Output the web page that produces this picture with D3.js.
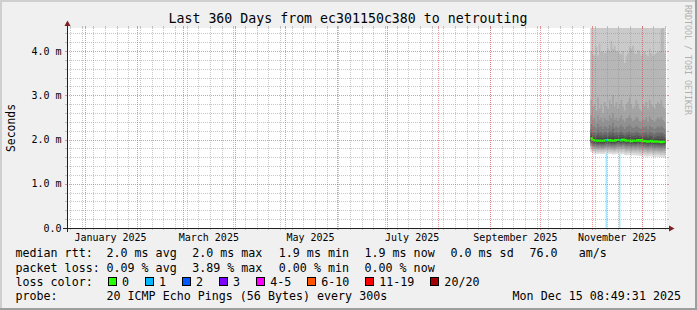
<!DOCTYPE html>
<html><head><meta charset="utf-8">
<script src="https://cdn.jsdelivr.net/npm/d3@7"></script>
<style>
body{margin:0;background:#f0f0f0;}
svg{display:block;font-family:"DejaVu Sans Mono",monospace;}
</style></head><body>
<svg id="c" width="697" height="310"></svg>
<script>
// ---------------- data ----------------
const title = "Last 360 Days from ec301150c380 to netrouting";
const yTickValues = [0, 1, 2, 3, 4];           // ms
const yTickLabels = ["0.0", "1.0 m", "2.0 m", "3.0 m", "4.0 m"];
const monthLabels = ["January 2025","March 2025","May 2025","July 2025","September 2025","November 2025"];
const monthLabelDates = ["2025-01-16","2025-03-16","2025-05-16","2025-07-16","2025-09-16","2025-11-16"];
const firstDay = "2025-10-31";                 // first daily sample, one value per day
// loss per day (pings lost out of 20)
const lossDays = ["2025-11-09","2025-11-17"];
const lossCounts = [1, 1];
// median rtt per day (ms)
const median = [2.03,1.99,1.98,1.98,1.97,1.98,1.97,1.97,1.98,1.99,1.98,1.99,1.97,1.98,1.97,1.99,1.99,1.99,1.98,2.00,1.99,1.97,1.98,1.98,1.96,1.98,1.97,1.97,1.99,1.97,1.99,1.96,1.97,1.96,1.95,1.96,1.97,1.95,1.95,1.96,1.95,1.95,1.94,1.95,1.95];
// sorted ping percentiles per day (ms); p19/p20 lie above the chart top
const p19 = [4.60,4.60,4.60,4.60,4.60,4.60,4.60,4.60,4.60,4.60,4.60,4.60,4.60,4.60,4.60,4.60,4.60,4.60,4.60,4.60,4.60,4.60,4.60,4.60,4.60,4.60,4.60,4.60,4.60,4.60,4.60,4.60,4.60,4.60,4.60,4.60,4.60,4.60,4.60,4.60,4.60,4.60,4.60,4.60,4.60];
const p18 = [4.00,3.92,3.90,4.10,3.90,4.16,3.98,4.00,3.95,3.97,4.05,4.00,4.23,4.05,4.12,4.00,3.98,3.95,3.92,4.00,3.73,3.90,3.95,4.10,4.05,4.12,3.95,3.93,4.02,3.98,3.90,3.95,4.00,3.92,3.88,4.05,3.95,3.90,3.92,3.95,3.98,4.00,4.50,4.55,3.95];
const p17 = [2.90,2.75,2.80,2.65,2.95,2.70,2.80,2.60,2.85,2.75,2.70,2.90,2.80,3.00,2.75,2.85,2.70,2.80,2.90,2.75,2.65,2.80,2.85,2.95,2.80,2.70,2.75,2.90,2.80,2.70,2.65,2.80,2.75,2.85,2.70,2.90,2.80,2.75,2.70,2.80,2.85,2.80,2.90,2.75,2.70];
const p16 = [2.55,2.45,2.50,2.40,2.55,2.45,2.50,2.40,2.50,2.45,2.42,2.55,2.48,2.60,2.45,2.50,2.42,2.48,2.55,2.45,2.40,2.48,2.50,2.55,2.48,2.42,2.45,2.52,2.48,2.42,2.40,2.46,2.44,2.50,2.40,2.52,2.46,2.44,2.40,2.46,2.50,2.46,2.52,2.44,2.40];
const p15 = [2.35,2.28,2.30,2.25,2.35,2.28,2.30,2.24,2.30,2.28,2.26,2.33,2.29,2.38,2.27,2.30,2.26,2.29,2.33,2.28,2.24,2.29,2.30,2.34,2.29,2.26,2.27,2.31,2.29,2.26,2.24,2.28,2.27,2.30,2.24,2.31,2.28,2.27,2.24,2.27,2.30,2.27,2.31,2.27,2.24];
const p14 = [2.22,2.16,2.17,2.14,2.21,2.16,2.17,2.13,2.17,2.16,2.15,2.20,2.17,2.24,2.15,2.17,2.15,2.17,2.20,2.16,2.13,2.16,2.17,2.20,2.16,2.14,2.15,2.18,2.16,2.14,2.13,2.15,2.14,2.17,2.12,2.17,2.15,2.14,2.12,2.14,2.16,2.14,2.17,2.14,2.12];
const p13 = [2.14,2.09,2.09,2.08,2.12,2.09,2.09,2.07,2.10,2.09,2.08,2.12,2.09,2.14,2.08,2.10,2.09,2.10,2.12,2.10,2.07,2.09,2.10,2.12,2.09,2.08,2.08,2.10,2.09,2.08,2.07,2.08,2.07,2.09,2.05,2.09,2.08,2.07,2.05,2.07,2.08,2.07,2.09,2.07,2.05];
const p12 = [2.08,2.04,2.03,2.03,2.04,2.04,2.03,2.02,2.04,2.04,2.03,2.05,2.03,2.06,2.02,2.04,2.04,2.04,2.05,2.05,2.03,2.02,2.04,2.05,2.02,2.03,2.02,2.03,2.04,2.02,2.03,2.01,2.02,2.02,2.00,2.02,2.02,2.00,2.00,2.01,2.01,2.00,2.01,2.00,2.00];
const p9 = [1.98,1.95,1.94,1.94,1.93,1.94,1.93,1.93,1.94,1.95,1.94,1.95,1.93,1.94,1.93,1.95,1.95,1.95,1.94,1.96,1.95,1.93,1.94,1.94,1.92,1.94,1.93,1.93,1.95,1.93,1.95,1.92,1.93,1.92,1.91,1.92,1.93,1.91,1.91,1.92,1.91,1.91,1.90,1.91,1.91];
const p8 = [1.95,1.92,1.91,1.91,1.90,1.91,1.90,1.90,1.91,1.92,1.91,1.92,1.90,1.91,1.90,1.92,1.92,1.92,1.91,1.93,1.92,1.90,1.91,1.91,1.89,1.91,1.90,1.90,1.92,1.90,1.92,1.89,1.90,1.89,1.88,1.89,1.90,1.88,1.88,1.89,1.88,1.88,1.87,1.88,1.88];
const p7 = [1.92,1.89,1.88,1.88,1.87,1.88,1.87,1.87,1.88,1.89,1.88,1.89,1.87,1.88,1.87,1.89,1.89,1.89,1.88,1.90,1.89,1.87,1.88,1.88,1.86,1.88,1.87,1.87,1.89,1.87,1.88,1.86,1.87,1.86,1.85,1.86,1.87,1.85,1.85,1.86,1.85,1.85,1.84,1.85,1.85];
const p6 = [1.89,1.86,1.85,1.85,1.84,1.85,1.84,1.84,1.85,1.86,1.85,1.86,1.84,1.85,1.84,1.86,1.86,1.86,1.85,1.87,1.86,1.84,1.85,1.85,1.83,1.85,1.84,1.84,1.85,1.84,1.85,1.83,1.83,1.82,1.82,1.83,1.83,1.82,1.81,1.82,1.82,1.81,1.81,1.82,1.81];
const p5 = [1.86,1.83,1.82,1.82,1.81,1.82,1.81,1.81,1.82,1.83,1.82,1.83,1.81,1.82,1.81,1.82,1.83,1.83,1.82,1.84,1.82,1.81,1.82,1.82,1.80,1.82,1.81,1.81,1.82,1.80,1.81,1.79,1.80,1.79,1.78,1.79,1.80,1.78,1.78,1.79,1.78,1.78,1.77,1.78,1.78];
const p4 = [1.83,1.80,1.79,1.79,1.78,1.79,1.78,1.78,1.79,1.80,1.79,1.80,1.78,1.79,1.77,1.79,1.80,1.80,1.78,1.80,1.79,1.77,1.78,1.78,1.76,1.78,1.77,1.77,1.78,1.76,1.77,1.75,1.76,1.75,1.74,1.75,1.76,1.74,1.74,1.75,1.74,1.74,1.73,1.74,1.74];
const p3 = [1.80,1.77,1.76,1.76,1.75,1.76,1.75,1.75,1.76,1.77,1.76,1.77,1.75,1.75,1.74,1.76,1.77,1.76,1.75,1.77,1.75,1.73,1.74,1.74,1.72,1.74,1.73,1.73,1.74,1.72,1.73,1.71,1.72,1.71,1.70,1.71,1.72,1.70,1.70,1.71,1.70,1.70,1.69,1.70,1.69];
const p2 = [1.76,1.73,1.72,1.72,1.71,1.72,1.71,1.71,1.72,1.73,1.72,1.72,1.71,1.71,1.70,1.72,1.72,1.72,1.70,1.72,1.70,1.69,1.70,1.70,1.68,1.70,1.69,1.69,1.69,1.68,1.68,1.67,1.67,1.66,1.66,1.67,1.67,1.66,1.65,1.66,1.66,1.65,1.65,1.65,1.64];
const p1 = [1.72,1.69,1.68,1.68,1.67,1.68,1.67,1.67,1.68,1.69,1.68,1.68,1.67,1.66,1.66,1.67,1.68,1.67,1.66,1.67,1.65,1.64,1.65,1.65,1.63,1.65,1.64,1.64,1.64,1.63,1.63,1.62,1.62,1.61,1.61,1.62,1.62,1.61,1.60,1.61,1.61,1.60,1.60,1.60,1.59];

const lossLegend = ["0","1","2","3","4-5","6-10","11-19","20/20"];
const lossColors = ["#26ff00","#00b8ff","#0059ff","#7e00ff","#ff00ff","#ff5500","#ff0000","#a10000"];
const rowRtt = ["median rtt:","2.0 ms avg","2.0 ms max","1.9 ms min","1.9 ms now","0.0 ms sd","76.0","am/s"];
const rowLoss = ["packet loss:","0.09 % avg","3.89 % max","0.00 % min","0.00 % now"];
const probeText = ["probe:","20 ICMP Echo Pings (56 Bytes) every 300s"];
const stampText = "Mon Dec 15 08:49:31 2025";

// ---------------- layout ----------------
const W = 697, H = 310;
const X0 = 67, X1 = 667, Y0 = 228, Y1 = 28;
const svg = d3.select("#c");
const tStart = new Date(Date.UTC(2024, 11, 20, 21, 36));
const tEnd = new Date(Date.UTC(2025, 11, 15, 21, 36));
const x = d3.scaleUtc().domain([tStart, tEnd]).range([X0, X1]);
const y = d3.scaleLinear().domain([0, 4.52]).range([Y0, Y1]);
const px = v => Math.round(v) + 0.5;

// background + 3D border
svg.append("rect").attr("width", W).attr("height", H).attr("fill", "#f0f0f0");
svg.append("path").attr("d", `M0,0H${W}V2H2V${H}H0Z`).attr("fill", "#cfcfcf");
svg.append("path").attr("d", `M${W},${H}H0V${H-2}H${W-2}V0H${W}Z`).attr("fill", "#9e9e9e");
// canvas
svg.append("rect").attr("x", X0).attr("y", Y1).attr("width", X1 - X0).attr("height", Y0 - Y1).attr("fill", "#fff");

svg.append("clipPath").attr("id", "clip").append("rect")
  .attr("x", X0).attr("y", Y1).attr("width", X1 - X0).attr("height", Y0 - Y1);
const gData = svg.append("g").attr("clip-path", "url(#clip)");

// daily dates
const d0 = d3.utcParse("%Y-%m-%d")(firstDay);
const days = median.map((_, i) => d3.utcDay.offset(d0, i));
const dayEnd = d3.utcDay.offset(d0, median.length);

// loss background bars
lossDays.forEach((ds, i) => {
  const d = d3.utcParse("%Y-%m-%d")(ds);
  const xa = x(d), xb = x(d3.utcDay.offset(d, 1));
  gData.append("rect").attr("x", xa).attr("y", Y1).attr("width", xb - xa).attr("height", Y0 - Y1)
    .attr("fill", lossColors[lossCounts[i]]).attr("fill-opacity", 0.35);
});

// smoke layers (pairs of sorted pings, outer to inner)
const layers = [
  [p1, p19, "#dddddd"], [p2, p19, "#cacaca"], [p3, p18, "#b7b7b7"], [p4, p17, "#a4a4a4"],
  [p5, p16, "#919191"], [p6, p15, "#7e7e7e"], [p7, p14, "#6b6b6b"], [p8, p13, "#585858"],
  [p9, p12, "#454545"]
];
const ext = arr => arr.concat([arr[arr.length - 1]]);
const dts = days.concat([dayEnd]);
layers.forEach(([lo, hi, col]) => {
  const lo2 = ext(lo), hi2 = ext(hi);
  const area = d3.area().curve(d3.curveStepAfter)
    .x((d, i) => x(dts[i])).y0((d, i) => y(lo2[i])).y1((d, i) => y(hi2[i]));
  gData.append("path").datum(dts).attr("d", area).attr("fill", col);
});

// median line colored by loss
const med2 = ext(median);
const line = d3.line().curve(d3.curveStepAfter).x((d, i) => x(dts[i])).y((d, i) => y(med2[i]));
gData.append("path").datum(dts).attr("d", line).attr("fill", "none")
  .attr("stroke", lossColors[0]).attr("stroke-width", 2);
lossDays.forEach((ds, i) => {
  const d = d3.utcParse("%Y-%m-%d")(ds);
  const k = days.findIndex(t => +t === +d);
  const xa = x(d), xb = x(d3.utcDay.offset(d, 1));
  gData.append("rect").attr("x", xa).attr("y", y(median[k]) - 1).attr("width", xb - xa).attr("height", 2)
    .attr("fill", lossColors[lossCounts[i]]);
});

// ---------------- grid (on top) ----------------
const gGrid = svg.append("g").attr("shape-rendering", "crispEdges");
const minorC = "rgba(143,143,143,0.5)", majorC = "rgba(222,80,80,0.6)";
const hMinor = d3.range(1, 23).map(k => k * 0.2).filter(v => Math.abs(v - Math.round(v)) > 1e-6);
hMinor.forEach(v => {
  const yy = px(y(v));
  gGrid.append("line").attr("x1", X0 - 2).attr("x2", X0).attr("y1", yy).attr("y2", yy).attr("stroke", minorC);
  gGrid.append("line").attr("x1", X1).attr("x2", X1 + 2).attr("y1", yy).attr("y2", yy).attr("stroke", minorC);
  gGrid.append("line").attr("x1", X0).attr("x2", X1).attr("y1", yy).attr("y2", yy)
    .attr("stroke", minorC).attr("stroke-dasharray", "1,1");
});
const mondays = d3.utcMonday.range(tStart, tEnd);
mondays.forEach(d => {
  const xx = px(x(d) - 0.5);
  gGrid.append("line").attr("x1", xx).attr("x2", xx).attr("y1", Y0).attr("y2", Y0 + 2).attr("stroke", minorC);
  gGrid.append("line").attr("x1", xx).attr("x2", xx).attr("y1", Y1 - 2).attr("y2", Y1).attr("stroke", minorC);
  gGrid.append("line").attr("x1", xx).attr("x2", xx).attr("y1", Y1).attr("y2", Y0)
    .attr("stroke", minorC).attr("stroke-dasharray", "1,1");
});
const months = d3.utcMonth.range(tStart, tEnd);
months.forEach(d => {
  const xx = px(x(d) - 0.5);
  gGrid.append("line").attr("x1", xx).attr("x2", xx).attr("y1", Y0).attr("y2", Y0 + 2).attr("stroke", majorC);
  gGrid.append("line").attr("x1", xx).attr("x2", xx).attr("y1", Y1 - 2).attr("y2", Y1).attr("stroke", majorC);
  gGrid.append("line").attr("x1", xx).attr("x2", xx).attr("y1", Y1).attr("y2", Y0)
    .attr("stroke", majorC).attr("stroke-dasharray", "1,1");
});
yTickValues.slice(1).forEach(v => {
  const yy = px(y(v));
  gGrid.append("line").attr("x1", X0 - 2).attr("x2", X0).attr("y1", yy).attr("y2", yy).attr("stroke", majorC);
  gGrid.append("line").attr("x1", X1).attr("x2", X1 + 2).attr("y1", yy).attr("y2", yy).attr("stroke", majorC);
  gGrid.append("line").attr("x1", X0).attr("x2", X1).attr("y1", yy).attr("y2", yy)
    .attr("stroke", majorC).attr("stroke-dasharray", "1,1");
});

// axes
const gAx = svg.append("g").attr("shape-rendering", "crispEdges");
gAx.append("line").attr("x1", X0 - 4).attr("x2", X1 + 4).attr("y1", Y0 + 0.5).attr("y2", Y0 + 0.5).attr("stroke", "#202020");
gAx.append("line").attr("x1", X0 + 0.5).attr("x2", X0 + 0.5).attr("y1", Y0 + 4).attr("y2", Y1 - 4).attr("stroke", "#202020");
svg.append("path").attr("d", `M${X1+2},${Y0-2.5}L${X1+2},${Y0+3.5}L${X1+7.5},${Y0+0.5}Z`).attr("fill", "#7f1f1f");
svg.append("path").attr("d", `M${X0-2.5},${Y1-2}L${X0+3.5},${Y1-2}L${X0+0.5},${Y1-7.5}Z`).attr("fill", "#7f1f1f");

// axis labels
const gT = svg.append("g").attr("fill", "#000");
yTickValues.forEach((v, i) => {
  gT.append("text").attr("x", 61.5).attr("y", y(v) + 3.6).attr("text-anchor", "end")
    .attr("font-size", "10px").text(yTickLabels[i]);
});
monthLabels.forEach((m, i) => {
  const d = d3.utcParse("%Y-%m-%d")(monthLabelDates[i]);
  gT.append("text").attr("x", x(d)).attr("y", 241.3).attr("text-anchor", "middle")
    .attr("font-size", "10px").text(m);
});
gT.append("text").attr("transform", "translate(15,128) rotate(-90)").attr("text-anchor", "middle")
  .attr("font-size", "11.4px").text("Seconds");
gT.append("text").attr("x", 348).attr("y", 23.3).attr("text-anchor", "middle")
  .attr("font-size", "13.25px").text(title);
svg.append("text").attr("transform", "translate(685,5) rotate(90)").attr("fill", "#b0b0b0")
  .attr("font-size", "8.3px").text("RRDTOOL / TOBI OETIKER");

// legend
const LF = "11.67px";
const rttX = [15.5, 106.5, 192.2, 278.8, 364.5, 450.5, 529.5, 578.8];
rowRtt.forEach((t, i) => gT.append("text").attr("x", rttX[i]).attr("y", 257.3).attr("font-size", LF).text(t));
rowLoss.forEach((t, i) => gT.append("text").attr("x", rttX[i]).attr("y", 271.7).attr("font-size", LF).text(t));
gT.append("text").attr("x", 15.5).attr("y", 285.7).attr("font-size", LF).text("loss color:");
// legend entries: box, then label 14px to the right, 16px gap to the next entry
let bx = 108;
lossLegend.forEach((t, i) => {
  svg.append("rect").attr("x", bx + 0.5).attr("y", 277.5).attr("width", 8).attr("height", 8)
    .attr("fill", lossColors[i]).attr("stroke", "#000").attr("stroke-width", 1).attr("shape-rendering", "crispEdges");
  const tx = gT.append("text").attr("x", bx + 14).attr("y", 285.7).attr("font-size", LF).text(t);
  bx = bx + 14 + tx.node().getComputedTextLength() + 16;
});
gT.append("text").attr("x", 15.5).attr("y", 300).attr("font-size", LF).text(probeText[0]);
gT.append("text").attr("x", 106.5).attr("y", 300).attr("font-size", LF).text(probeText[1]);
gT.append("text").attr("x", 681).attr("y", 300).attr("text-anchor", "end").attr("font-size", LF).text(stampText);
</script>
</body></html>
